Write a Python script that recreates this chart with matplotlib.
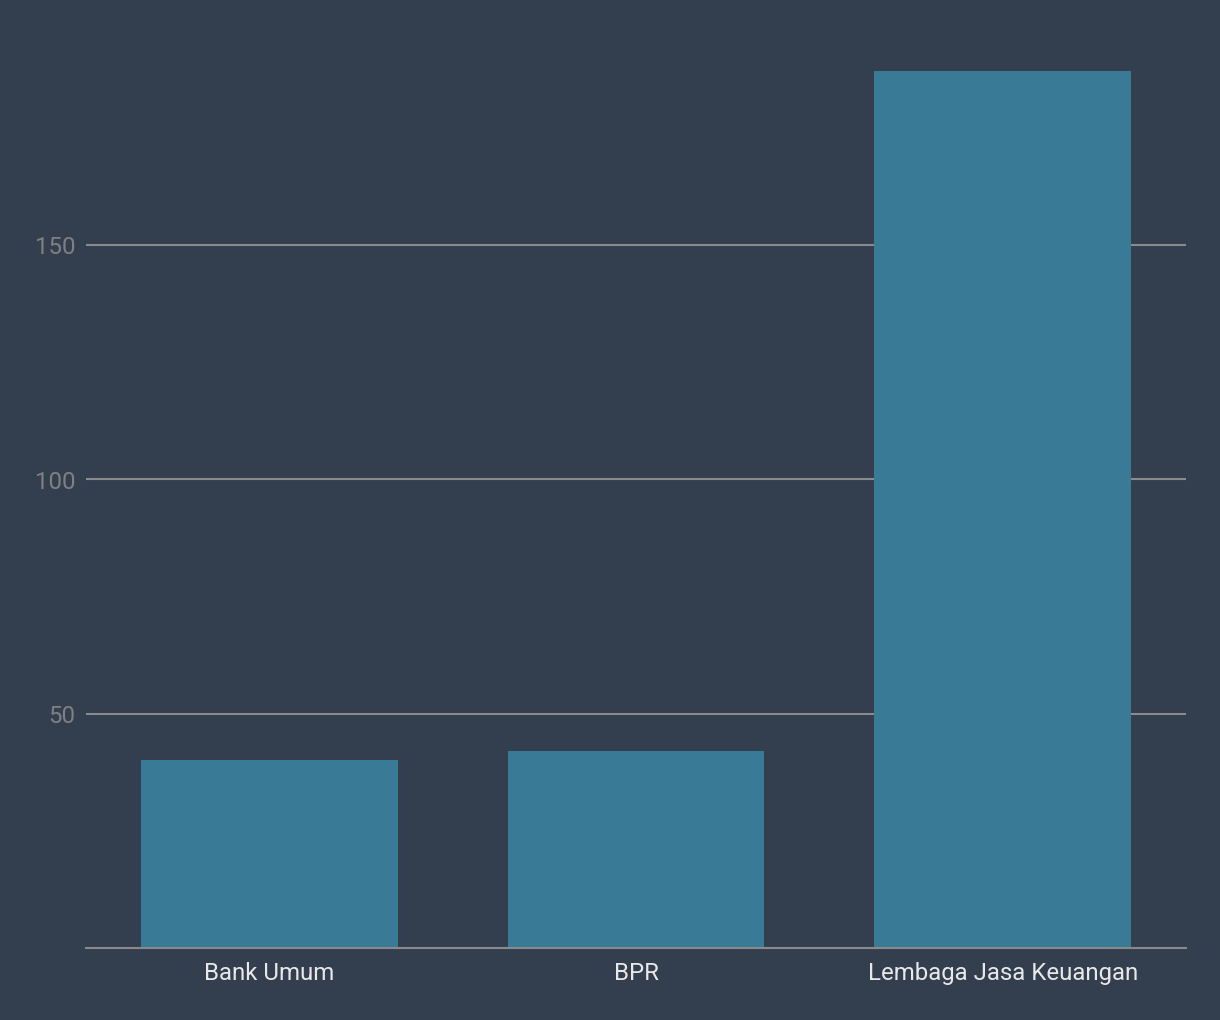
import matplotlib
matplotlib.use("Agg")
import matplotlib.pyplot as plt

categories = ["Bank Umum", "BPR", "Lembaga Jasa Keuangan"]
values = [40, 42, 187]
yticks = [50, 100, 150]

bg = "#333e4f"
bar_color = "#397b96"
grid_color = "#8a8a8a"

plt.rcParams['font.family'] = ['Roboto', 'DejaVu Sans']

fig = plt.figure(figsize=(12.2, 10.205), dpi=100, facecolor=bg)
ax = fig.add_axes([86 / 1220, 72 / 1020, 1100 / 1220, 937 / 1020])
ax.set_facecolor(bg)

x = range(len(categories))
ax.bar(x, values, width=0.7, color=bar_color, zorder=3)
ax.set_xlim(-0.5, len(categories) - 0.5)
ax.set_ylim(0, 200)

ax.set_yticks(yticks)
ax.yaxis.grid(True, color=grid_color, linewidth=1.5, zorder=1)
ax.set_xticks(list(x))
ax.set_xticklabels(categories)
ax.tick_params(axis='y', length=0, pad=7.5, labelsize=17.3, labelcolor="#7f8081")
ax.tick_params(axis='x', length=0, pad=10, labelsize=17.3, labelcolor="#e8e8e8")

for side in ["top", "right", "left"]:
    ax.spines[side].set_visible(False)
ax.spines["bottom"].set_color(grid_color)
ax.spines["bottom"].set_linewidth(1.5)
ax.spines["bottom"].set_zorder(4)

fig.savefig("out.png", facecolor=bg)
